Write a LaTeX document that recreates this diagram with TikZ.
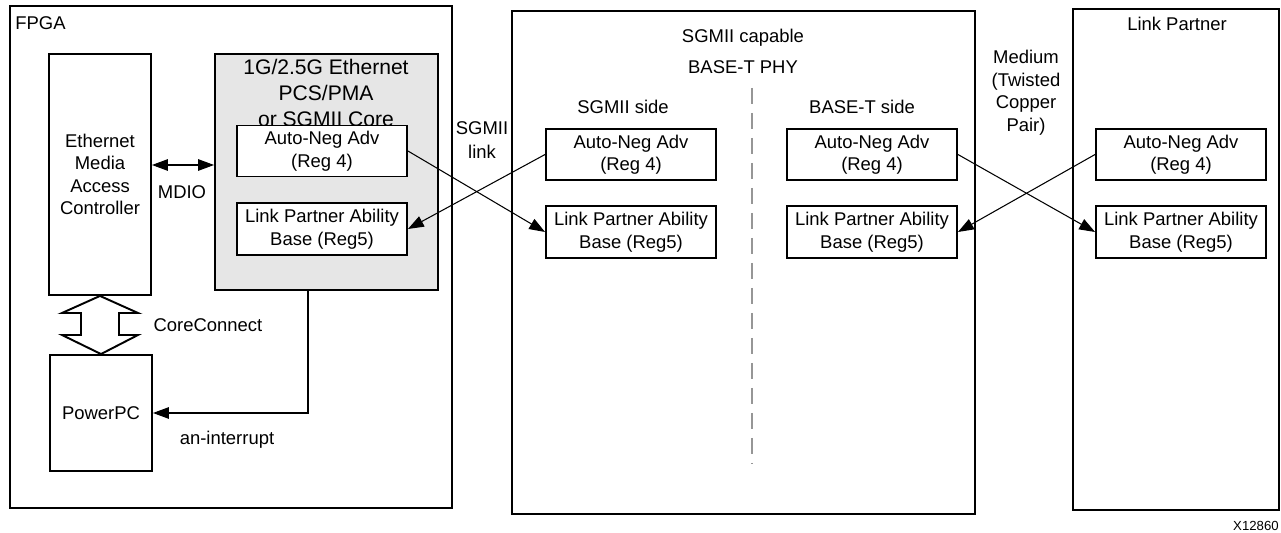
\documentclass[tikz,border=0pt]{standalone}
\usepackage{fontspec}
\setmainfont{Liberation Sans}
\usetikzlibrary{arrows.meta, positioning, calc}
\definecolor{coregray}{RGB}{230,230,230}
\definecolor{dashgray}{RGB}{150,150,150}

\begin{document}
\begin{tikzpicture}[
  x=0.02cm, y=-0.02cm,
  every node/.style={font=\fontsize{10.5}{12.8}\selectfont, align=center, inner sep=0pt},
  box/.style={draw, line width=1.1pt},
  reg/.style={box, fill=white, minimum width=3.4cm, minimum height=1.02cm},
  arr/.style={-{Triangle[length=9pt,width=6.5pt]}, line width=0.6pt},
  darr/.style={{Triangle[length=9pt,width=6.5pt]}-{Triangle[length=9pt,width=6.5pt]}, line width=0.6pt}
]
  \useasboundingbox (0,0) rectangle (1281,533);

  \node[box, minimum width=8.84cm, minimum height=10.04cm] (fpga) at (231,257) {};
  \node[box, minimum width=9.26cm, minimum height=10.06cm] (phy)  at (743.5,262.5) {};
  \node[box, minimum width=4.12cm, minimum height=10.02cm] (lp)   at (1176,259.5) {};

  \node[anchor=west] (fpgalbl) at (15,23) {FPGA};
  \node (lplbl)  at (1177,24) {Link Partner};
  \node (phylbl) at (743,38) {SGMII capable};
  \node (phylbl2) at (743,67) {BASE-T PHY};
  \node (sside)  at (623,107) {SGMII side};
  \node (tside)  at (862,107) {BASE-T side};
  \node[font=\fontsize{10.5}{13.6}\selectfont] (slink) at (482,140) {SGMII\\link};
  \node (medium) at (1026,92.5) {Medium\\(Twisted\\Copper\\Pair)};

  \node[box, minimum width=2.04cm, minimum height=4.82cm] (emac) at (100,174.5)
       {Ethernet\\Media\\Access\\Controller};
  \node[box, fill=coregray, minimum width=4.46cm, minimum height=4.72cm] (core) at (326.5,172) {};
  \node[font=\fontsize{12}{14.7}\selectfont] (corelbl) at (326,93)
       {1G/2.5G Ethernet\\PCS/PMA\\or SGMII Core};
  \node[box, minimum width=2.04cm, minimum height=2.32cm] (ppc) at (101,413) {PowerPC};

  \node[reg] (cadv) at (322,151) {Auto-Neg Adv\\(Reg 4)};
  \node[reg, minimum height=1.04cm] (clpa) at (322,229) {Link Partner Ability\\Base (Reg5)};
  \node[reg] (sadv) at (631,154.5) {Auto-Neg Adv\\(Reg 4)};
  \node[reg, minimum height=1.04cm] (slpa) at (631,232) {Link Partner Ability\\Base (Reg5)};
  \node[reg] (tadv) at (872,154.5) {Auto-Neg Adv\\(Reg 4)};
  \node[reg, minimum height=1.04cm] (tlpa) at (872,232) {Link Partner Ability\\Base (Reg5)};
  \node[reg] (ladv) at (1181,154.5) {Auto-Neg Adv\\(Reg 4)};
  \node[reg, minimum height=1.04cm] (llpa) at (1181,232) {Link Partner Ability\\Base (Reg5)};

  \coordinate (dtop) at (752,88);
  \coordinate (dbot) at (752,463);
  \draw[dashgray, line width=0.9pt, dash pattern=on 0.32cm off 0.18cm] (dtop) -- (dbot);

  \draw[arr] (cadv.east) -- (slpa.west); \draw[arr] (sadv.west) -- (clpa.east);
  \draw[arr] (tadv.east) -- (llpa.west); \draw[arr] (ladv.west) -- (tlpa.east);

  \draw[darr] ([yshift=0.19cm]emac.east) -- ([yshift=0.19cm]emac.east -| core.west);
  \node (mdio) at (182,192) {MDIO};

  \draw[line width=1.1pt, fill=white] (emac.south) -- (138,313) -- (119,313) -- (119,335)
    -- (138,335) -- (ppc.north) -- (62,335) -- (81,335) -- (81,313) -- (62,313) -- cycle;
  \node (cc) at (208,325) {CoreConnect};

  \draw[arr] ([xshift=-0.37cm]core.south) |- (ppc.east);
  \node (intr) at (227,440) {an-interrupt};

  \node[anchor=east, font=\fontsize{7.5}{9}\selectfont] (fig) at (1279,526) {X12860};
\end{tikzpicture}
\end{document}
